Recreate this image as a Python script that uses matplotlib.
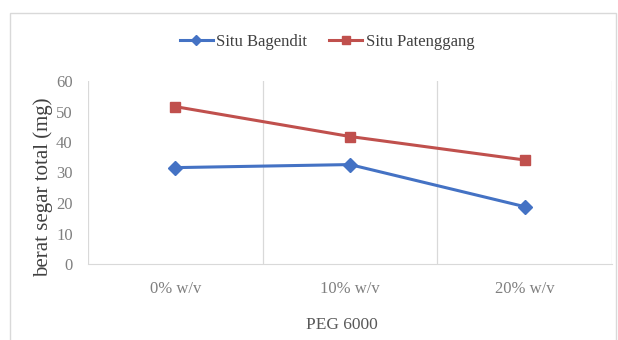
import matplotlib.pyplot as plt
from matplotlib.patches import Rectangle

categories = ["0% w/v", "10% w/v", "20% w/v"]
bagendit = [31.6, 32.6, 18.8]
patenggang = [51.6, 41.8, 34.1]
yticks = [0, 10, 20, 30, 40, 50, 60]

plt.rcParams["font.family"] = "Liberation Serif"

fig = plt.figure(figsize=(6.18, 3.40), dpi=100)
# chart border
fig.patches.append(Rectangle((10 / 618, -0.05), 606 / 618, 1.0 - 13 / 340 + 0.05,
                             transform=fig.transFigure, fill=False,
                             edgecolor="#d9d9d9", linewidth=1.0))

ax = fig.add_axes([88 / 618, 76 / 340, 524 / 618, 183 / 340])
x = range(len(categories))
ax.plot(x, bagendit, color="#4472C4", marker="D", markersize=7, linewidth=2.2,
        label="Situ Bagendit")
ax.plot(x, patenggang, color="#C0504D", marker="s", markersize=7, linewidth=2.2,
        label="Situ Patenggang")

ax.set_xlim(-0.5, 2.5)
ax.set_ylim(0, 60)
ax.set_yticks(yticks)
ax.set_xticks(list(x))
ax.set_xticklabels(categories)

# vertical gridlines between categories
for b in [-0.5, 0.5, 1.5, 2.5]:
    ax.axvline(b, color="#d9d9d9", linewidth=0.9, zorder=0)

for s in ["top", "right", "left"]:
    ax.spines[s].set_visible(False)
ax.spines["bottom"].set_color("#d9d9d9")
ax.tick_params(axis="both", length=0, colors="#7f7f7f", labelsize=12)
ax.tick_params(axis="y", pad=11)
ax.tick_params(axis="x", pad=12)

fig.text(43 / 618, 1 - 187 / 340, "berat segar total (mg)", rotation=90,
         ha="center", va="center", fontsize=15, color="#404040")
fig.text(342 / 618, 1 - 325 / 340, "PEG 6000", ha="center", va="center",
         fontsize=12.5, color="#595959")

fig.legend(loc="center", bbox_to_anchor=(327 / 618, 1 - 42 / 340), ncol=2,
           frameon=False, fontsize=12, handlelength=2.0, handletextpad=0.2,
           columnspacing=1.3, markerscale=0.75, labelcolor="#404040")

fig.savefig("out.png", dpi=100)
